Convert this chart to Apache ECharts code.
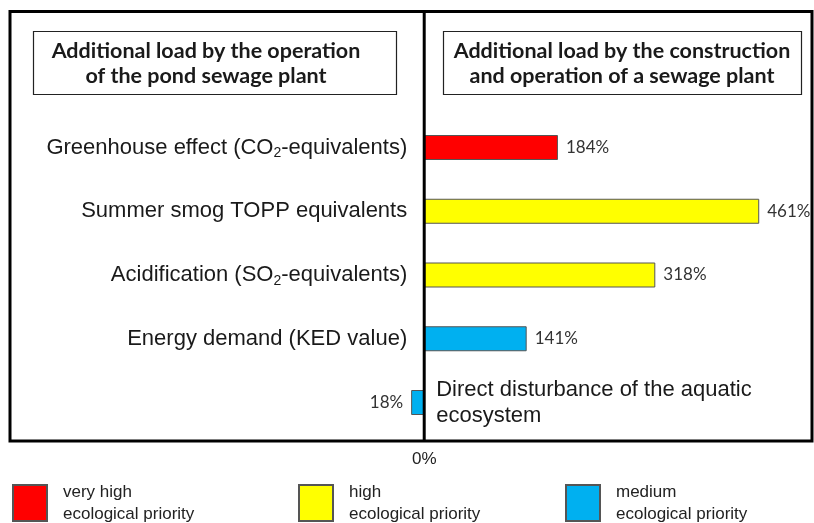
<!DOCTYPE html>
<html>
<head>
<meta charset="utf-8">
<script src="https://cdn.jsdelivr.net/npm/echarts@6/dist/echarts.min.js"></script>
<style>
html,body{margin:0;padding:0;background:#fff;}
#c{width:814px;height:523px;}
</style>
</head>
<body>
<div id="c"></div>
<script>
// ---- data ----
const categories = [
  'Greenhouse effect (CO2-equivalents)',
  'Summer smog TOPP equivalents',
  'Acidification (SO2-equivalents)',
  'Energy demand (KED value)',
  'Direct disturbance of the aquatic ecosystem'
];
const values = [184, 461, 318, 141, -18];
const priorities = ['very high', 'high', 'high', 'medium', 'medium'];
const priorityNames = ['very high', 'high', 'medium'];
const priorityColors = ['#FF0000', '#FFFF00', '#00B0F0'];
const panelTitles = [
  'Additional load by the operation\nof the pond sewage plant',
  'Additional load by the construction\nand operation of a sewage plant'
];
const zeroLabel = '0%';

// ---- chart ----
const chart = echarts.init(document.getElementById('c'), null, {renderer: 'canvas'});
const catFont = 'Liberation Sans, Arial, sans-serif';
const valFont = 'Lato, Open Sans, sans-serif';
const legFont = 'Liberation Sans, Arial, sans-serif';

const xMin = -570, xMax = 535, gridLeft = 10, gridWidth = 803;
// distance of the zero line from the grid's left edge (axis placed on zero)
const zeroOffset = (0 - xMin) / (xMax - xMin) * gridWidth;

function subFmt(s) {
  return s.replace(/(CO|SO)2/g, '$1{sub|2}');
}

const series = priorityNames.map((p, si) => ({
  name: p,
  type: 'bar',
  stack: 'all',
  barWidth: 25,
  itemStyle: {color: priorityColors[si], borderColor: '#555', borderWidth: 1},
  data: values.map((v, i) => priorities[i] === p ? {
    value: v,
    label: {position: v < 0 ? 'left' : 'right'}
  } : '-'),
  label: {
    show: true,
    distance: 8,
    fontFamily: valFont,
    fontSize: 17,
    color: '#333',
    formatter: (d) => Math.abs(d.value) + '%'
  }
}));

const legends = priorityNames.map((p, i) => ({
  data: [p],
  left: [12, 298, 565][i],
  top: 481,
  padding: 0,
  itemWidth: 34,
  itemHeight: 36,
  itemGap: 0,
  icon: 'rect',
  selectedMode: false,
  formatter: (n) => n + '\necological priority',
  textStyle: {fontFamily: legFont, fontSize: 17, lineHeight: 22, color: '#222', padding: [0, 0, 0, 11]}
}));

chart.setOption({
  animation: false,
  backgroundColor: '#fff',
  grid: {left: gridLeft, width: gridWidth, top: 115.625, height: 318.75, containLabel: false, outerBoundsMode: 'none'},
  legend: legends,
  xAxis: {
    type: 'value',
    min: xMin,
    max: xMax,
    splitLine: {show: false},
    axisLine: {show: false},
    axisTick: {show: false},
    axisLabel: {
      customValues: [0],
      margin: 16,
      fontFamily: catFont,
      fontSize: 17,
      color: '#222',
      formatter: () => zeroLabel
    }
  },
  yAxis: [{
    type: 'category',
    data: categories,
    inverse: true,
    position: 'left',
    offset: -zeroOffset,
    axisLine: {show: false, onZero: false},
    axisTick: {show: false},
    axisLabel: {
      margin: 17,
      fontFamily: catFont,
      fontSize: 22,
      color: '#1a1a1a',
      formatter: (v, i) => i === categories.length - 1 ? '' : subFmt(v),
      rich: {
        sub: {fontFamily: catFont, fontSize: 14, color: '#1a1a1a', padding: [12, 0, 0, 0]}
      }
    }
  }, {
    type: 'category',
    data: categories,
    inverse: true,
    position: 'left',
    offset: -zeroOffset,
    axisLine: {show: false, onZero: false},
    axisTick: {show: false},
    axisLabel: {
      inside: true,
      margin: 12,
      width: 340,
      overflow: 'break',
      lineHeight: 26,
      fontFamily: catFont,
      fontSize: 22,
      color: '#1a1a1a',
      formatter: (v, i) => i === categories.length - 1 ? v : ''
    }
  }],
  series: series
});

const x0 = chart.convertToPixel({xAxisIndex: 0}, 0);
const boxes = [[33, 31, 363, 63], [443, 31, 358, 63]];
const textCenters = [206, 622];
const graphics = [
  {type: 'rect', shape: {x: 10, y: 11.5, width: 802, height: 429.5},
   style: {fill: 'none', stroke: '#000', lineWidth: 3}, z: 10},
  {type: 'line', shape: {x1: x0, y1: 11.5, x2: x0, y2: 441},
   style: {stroke: '#000', lineWidth: 3}, z: 10}
];
boxes.forEach((b, i) => {
  graphics.push({type: 'rect', shape: {x: b[0] + 0.5, y: b[1] + 0.5, width: b[2], height: b[3]},
    style: {fill: '#fff', stroke: '#222', lineWidth: 1.2}, z: 10});
  graphics.push({type: 'text', x: textCenters[i], y: b[1] + b[3] / 2 + 1,
    style: {text: panelTitles[i], align: 'center', verticalAlign: 'middle',
      fontFamily: 'Lato, Open Sans, sans-serif', fontWeight: 'bold', fontSize: 21.5,
      lineHeight: 25, fill: '#1a1a1a'}, z: 11});
});
chart.setOption({graphic: graphics});
</script>
</body>
</html>
